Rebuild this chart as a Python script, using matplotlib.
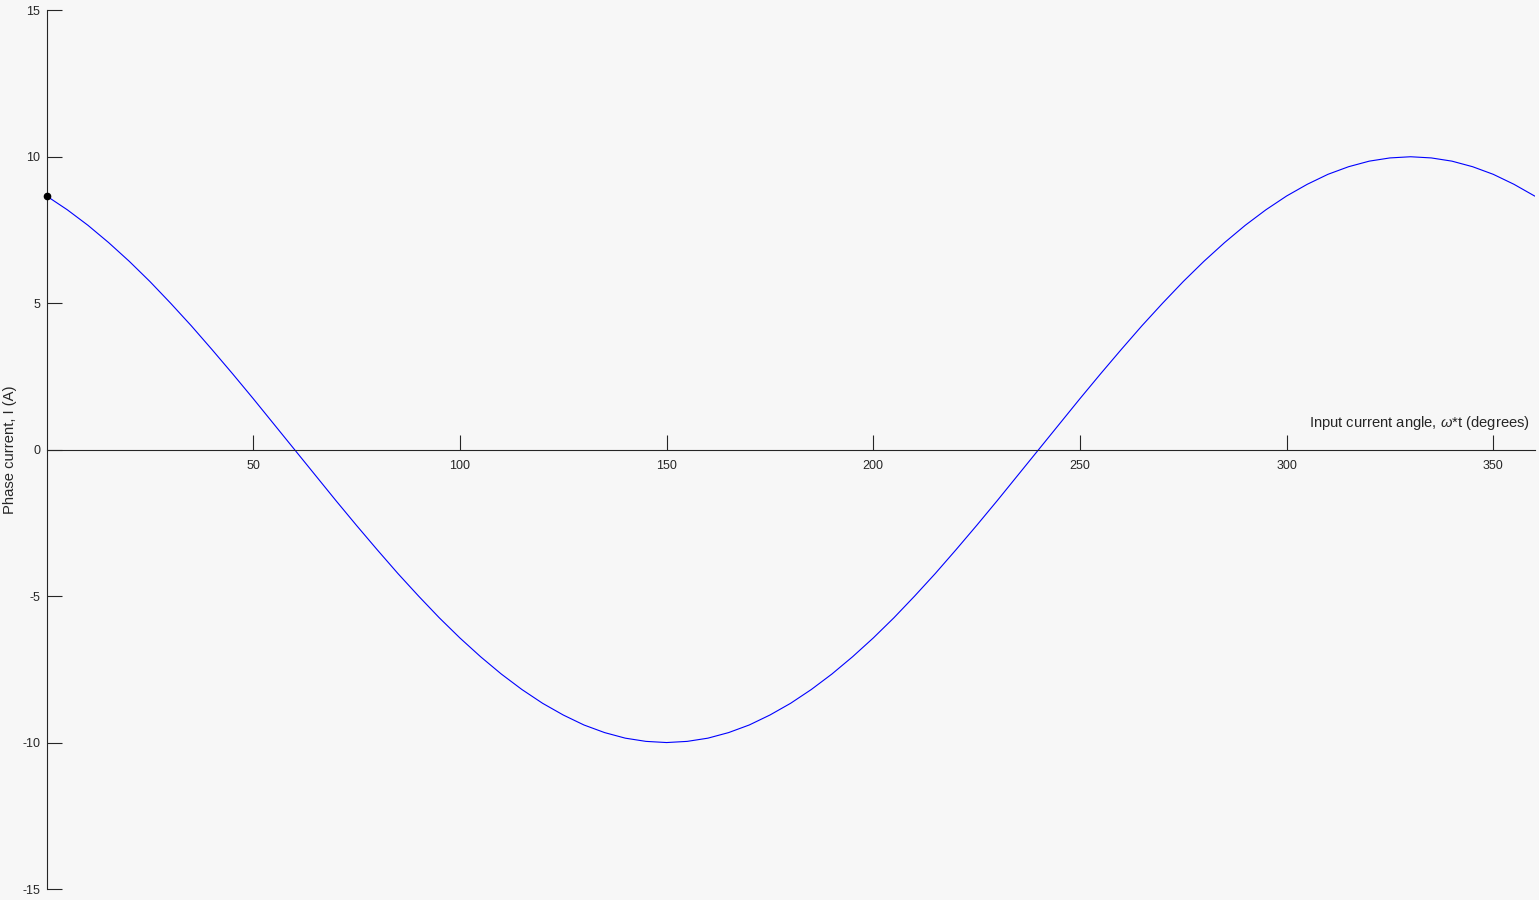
import matplotlib
matplotlib.use("Agg")
import matplotlib.pyplot as plt

plt.rcParams['font.family'] = ['Liberation Sans', 'DejaVu Sans']
plt.rcParams['mathtext.fontset'] = 'custom'
plt.rcParams['mathtext.rm'] = 'Liberation Sans'
plt.rcParams['mathtext.it'] = 'Liberation Sans:italic'

# Input current angle (degrees)
angle = list(range(0, 361, 5))
# Phase current (A)
current = [8.66, 8.19, 7.66, 7.07, 6.43, 5.74, 5.00, 4.23, 3.42, 2.59, 1.74, 0.87,
           0.00, -0.87, -1.74, -2.59, -3.42, -4.23, -5.00, -5.74, -6.43, -7.07, -7.66, -8.19,
           -8.66, -9.06, -9.40, -9.66, -9.85, -9.96, -10.00, -9.96, -9.85, -9.66, -9.40, -9.06,
           -8.66, -8.19, -7.66, -7.07, -6.43, -5.74, -5.00, -4.23, -3.42, -2.59, -1.74, -0.87,
           0.00, 0.87, 1.74, 2.59, 3.42, 4.23, 5.00, 5.74, 6.43, 7.07, 7.66, 8.19,
           8.66, 9.06, 9.40, 9.66, 9.85, 9.96, 10.00, 9.96, 9.85, 9.66, 9.40, 9.06, 8.66]
marker_angle = [0]
marker_current = [8.66]
xticks = [50, 100, 150, 200, 250, 300, 350]
yticks = [-15, -10, -5, 0, 5, 10, 15]

bg = '#f7f7f7'
axc = '#262626'

fig = plt.figure(figsize=(15.39, 9.0), dpi=100, facecolor=bg)
ax = fig.add_axes([46.6 / 1539, 11 / 900, (1534.6 - 46.6) / 1539, (889 - 10.3) / 900])
ax.set_facecolor(bg)

ax.plot(angle, current, color='#0000ff', lw=0.8, solid_joinstyle='round')
ax.plot(marker_angle, marker_current, 'o', color='black', ms=4.5, clip_on=False, zorder=5)

ax.set_xlim(0, 360)
ax.set_ylim(-15, 15)
ax.set_xticks(xticks)
ax.set_yticks(yticks)
ax.set_xticklabels([str(v) for v in xticks])
ax.set_yticklabels([str(v) for v in yticks])

ax.spines['top'].set_visible(False)
ax.spines['right'].set_visible(False)
ax.spines['bottom'].set_position(('data', 0))
for s in ('left', 'bottom'):
    ax.spines[s].set_color(axc)
    ax.spines[s].set_linewidth(0.8)

ax.tick_params(axis='both', direction='in', length=10.5, width=0.8, color=axc,
               labelcolor=axc, labelsize=9)
ax.tick_params(axis='x', pad=7.5)
ax.tick_params(axis='y', pad=4.5)

fig.text(1530 / 1539, 1 - 427 / 900, r'Input current angle, $\it{\omega}$*t (degrees)',
         ha='right', va='baseline', fontsize=10.6, color=axc)
fig.text(10 / 1539, 1 - 450 / 900, 'Phase current, I (A)', rotation=90,
         ha='center', va='center', fontsize=10.6, color=axc)

fig.savefig('out.png', dpi=100, facecolor=bg)
